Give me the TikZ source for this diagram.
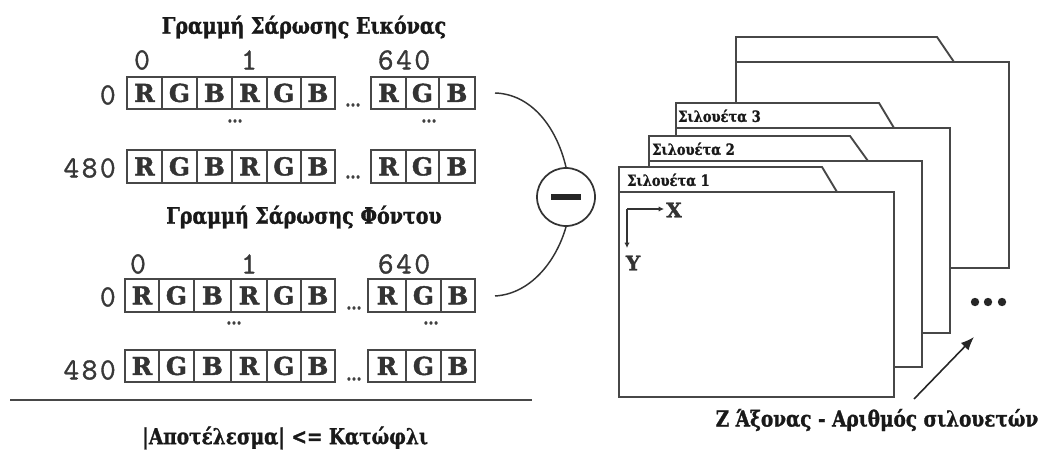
\documentclass[tikz,border=0pt]{standalone}
\usepackage{fontspec}
\usetikzlibrary{arrows.meta}
\newfontfamily\slabfont[FakeStretch=0.84,FakeBold=1.3]{DejaVu Serif Bold}
\newfontfamily\slabwide[FakeBold=1.6]{DejaVu Serif Bold}
\newfontfamily\numfont[FakeBold=1.2,LetterSpace=8]{Latin Modern Mono}
\newcommand{\rgbrow}[4]{%
  \foreach \xa/\xb/\ch/\id in {#2}{%
    \node[cell,minimum width={(\xb-\xa)*0.75pt},minimum height={(#4-#3)*0.75pt}] (#1\id) at (\xa,#3) {\ch};
  }}
\newcommand{\sheetshape}[7]{%
  \draw[sheet] (#1,#3) -- (#1,#2) -- (#6,#2) -- (#7,#3) -- (#4,#3) -- (#4,#5) -- (#1,#5) -- cycle;
  \draw[sheet] (#1,#3) -- (#7,#3);}
\begin{document}
\begin{tikzpicture}[x=0.75pt,y=-0.75pt,
  cell/.style={draw=black!72,line width=1.4pt,inner sep=0pt,anchor=north west,font=\slabwide\fontsize{18.5}{18.5}\selectfont,text=black!80},
  num/.style={font=\numfont\fontsize{23}{23}\selectfont,text=black!78,inner sep=0pt},
  title/.style={font=\slabfont\fontsize{17}{18}\selectfont,text=black!90,inner sep=0pt},
  restitle/.style={font=\slabfont\fontsize{16.5}{18}\selectfont,text=black!90,inner sep=0pt},
  tabt/.style={font=\slabfont\fontsize{11.6}{12}\selectfont,text=black!90,inner sep=0pt,anchor=west},
  dotsn/.style={font=\slabfont\fontsize{13}{13}\selectfont,inner sep=0pt,text=black!75},
  sheet/.style={draw=black!72,line width=1.4pt,fill=white,line join=miter},
  wire/.style={draw=black!80,line width=1.1pt},
  axlabel/.style={font=\slabwide\fontsize{15}{15}\selectfont,inner sep=0pt,text=black!80}]
\useasboundingbox (0,0) rectangle (1044,452);
\node[title] (t1) at (304,27) {Γραμμή Σάρωσης Εικόνας};
\node[num] (n10) at (142,60) {0};
\node[num] (n11) at (249,60) {1};
\node[num] (n12) at (404,60) {640};
\rgbrow{a}{126/161/R/1,161/196/G/2,196/231/B/3,231/266/R/4,266/300/G/5,300/334/B/6,370/405/R/7,405/438/G/8,438/474/B/9}{76}{108}
\node[num,anchor=east] (l1) at (116,95) {0};
\node[dotsn] (d1) at (353,105) {...};
\node[dotsn] (d2) at (235,121) {...};
\node[dotsn] (d3) at (429,121) {...};
\rgbrow{b}{126/161/R/1,161/196/G/2,196/231/B/3,231/266/R/4,266/300/G/5,300/334/B/6,370/405/R/7,405/438/G/8,438/474/B/9}{149}{182}
\node[num,anchor=east] (l2) at (116,168) {480};
\node[dotsn] (d4) at (353,177) {...};
\node[title] (t2) at (304,217) {Γραμμή Σάρωσης Φόντου};
\node[num] (n20) at (138,264) {0};
\node[num] (n21) at (249,264) {1};
\node[num] (n22) at (404,264) {640};
\rgbrow{c}{124/158/R/1,158/193/G/2,193/230/B/3,230/266/R/4,266/300/G/5,300/334/B/6,367/405/R/7,405/440/G/8,440/474/B/9}{278}{311}
\node[num,anchor=east] (l3) at (116,297) {0};
\node[dotsn] (d5) at (354,308) {...};
\node[dotsn] (d6) at (234,323) {...};
\node[dotsn] (d7) at (431,323) {...};
\rgbrow{e}{124/158/R/1,158/193/G/2,193/230/B/3,230/266/R/4,266/300/G/5,300/334/B/6,367/405/R/7,405/440/G/8,440/474/B/9}{349}{381}
\node[num,anchor=east] (l4) at (116,370) {480};
\node[dotsn] (d8) at (354,379) {...};
\coordinate (r1) at (10,400);
\coordinate (r2) at (532,400);
\draw[black!72,line width=1.4pt] (r1) -- (r2);
\node[restitle] (res) at (285,438) {|Αποτέλεσμα| <= Κατώφλι};
% minus
\node[draw=black!80,line width=1.3pt,circle,minimum size=43.5pt,inner sep=0pt,fill=white] (minus) at (566,197) {};
\fill[black!85] (551,194) rectangle (581,200);
\coordinate (w1) at (495,93);
\coordinate (w2) at (495,296);
\draw[wire] (w1) .. controls (530,94) and (556,125) .. (minus.north);
\draw[wire] (w2) .. controls (530,294) and (556,262) .. (minus.south);
% sheets
\sheetshape{736}{37}{62}{1009}{268}{937}{954}
\sheetshape{676}{103}{128}{950}{333}{879}{894}
\sheetshape{649}{136}{161}{922}{367}{850}{868}
\sheetshape{619}{167}{192}{894}{397}{822}{837}
\node[tabt] (s3) at (678,116) {Σιλουέτα 3};
\node[tabt] (s2) at (652,149) {Σιλουέτα 2};
\node[tabt] (s1) at (627,180) {Σιλουέτα 1};
\coordinate (o) at (627,209);
\node[axlabel] (X) at (674,210) {X};
\node[axlabel] (Y) at (633,263) {Y};
\coordinate (xe) at (664,209);
\coordinate (ye) at (627,248);
\draw[black!80,line width=0.9pt,-{Latex[length=4pt,width=4pt]}] (o) -- (xe);
\draw[black!80,line width=0.9pt,-{Latex[length=4pt,width=4pt]}] (o) -- (ye);
\foreach \dx/\i in {975/1,988/2,1002/3}{\fill[black!85] (\dx,302) circle (4.2);}
\coordinate (a1) at (914,399);
\coordinate (a2) at (974,337);
\draw[black!85,line width=1.2pt,-{Latex[length=10pt,width=8pt]}] (a1) -- (a2);
\node[restitle] (zt) at (877,420) {Z Άξονας - Αριθμός σιλουετών};
\end{tikzpicture}
\end{document}
